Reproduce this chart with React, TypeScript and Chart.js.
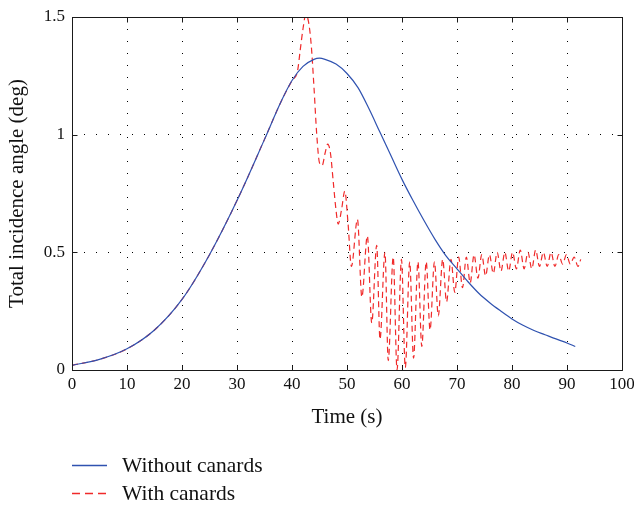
import React, { useEffect, useRef } from "react";
import { Chart, registerables } from "chart.js";

Chart.register(...registerables);

const blueTime = [0, 5, 10, 15, 20, 25, 30, 35, 38, 40, 42, 44, 45, 46, 48, 50, 52, 54, 56, 58, 60, 62, 64, 66, 68, 70, 72, 74, 76, 78, 80, 82, 84, 86, 88, 90, 91.5];
const blueValue = [0.02, 0.045, 0.09, 0.17, 0.3, 0.49, 0.72, 0.98, 1.14, 1.23, 1.29, 1.32, 1.325, 1.32, 1.3, 1.26, 1.2, 1.11, 1.01, 0.91, 0.81, 0.72, 0.635, 0.555, 0.485, 0.43, 0.375, 0.325, 0.285, 0.25, 0.217, 0.19, 0.168, 0.15, 0.132, 0.115, 0.1];

const redTime = [0, 5, 10, 15, 20, 25, 30, 35, 38, 40, 41, 41.5, 42, 42.5, 43, 43.5, 44, 44.5, 45, 45.5, 46, 46.5, 47, 47.5, 48, 48.4, 49, 49.6, 50.2, 50.8, 51.9, 52.7, 53.7, 54.5, 55.4, 56.0, 56.9, 57.5, 58.4, 59.1, 59.9, 60.6, 61.4, 62.1, 62.9, 63.6, 64.4, 65.1, 65.9, 66.6, 67.4, 68.1, 68.9, 69.6, 70.3, 71.0, 71.7, 72.4, 73.1, 73.8, 74.5, 75.2, 75.9, 76.6, 77.3, 78.0, 78.7, 79.4, 80.1, 80.8, 81.5, 82.2, 82.9, 83.6, 84.3, 85.0, 85.7, 86.4, 87.1, 87.8, 88.5, 89.2, 89.9, 90.6, 91.3, 92.0, 92.5];
const redValue = [0.02, 0.045, 0.09, 0.17, 0.3, 0.49, 0.72, 0.98, 1.14, 1.23, 1.27, 1.36, 1.45, 1.51, 1.48, 1.38, 1.2, 1.0, 0.88, 0.87, 0.92, 0.96, 0.92, 0.8, 0.68, 0.62, 0.68, 0.76, 0.62, 0.44, 0.64, 0.31, 0.57, 0.2, 0.53, 0.13, 0.5, 0.04, 0.48, 0.0, 0.47, 0.01, 0.46, 0.05, 0.46, 0.1, 0.46, 0.17, 0.46, 0.23, 0.47, 0.29, 0.47, 0.33, 0.48, 0.35, 0.48, 0.37, 0.49, 0.39, 0.49, 0.4, 0.49, 0.41, 0.5, 0.42, 0.5, 0.42, 0.5, 0.43, 0.51, 0.43, 0.5, 0.43, 0.51, 0.44, 0.5, 0.44, 0.5, 0.44, 0.49, 0.45, 0.49, 0.45, 0.48, 0.44, 0.47];

const xTicks = [0, 10, 20, 30, 40, 50, 60, 70, 80, 90, 100];
const yTicks = [0, 0.5, 1, 1.5];

const seriesNames = ["Without canards", "With canards"];
const BLUE = "#2f52b0";
const RED = "#f02a2a";
const FONT = "'Liberation Serif', 'DejaVu Serif', serif";

const framePlugin = {
  id: "frame",
  afterDraw(chart: any) {
    const { ctx, chartArea, scales } = chart;
    const { left, right, top, bottom } = chartArea;
    ctx.save();
    ctx.strokeStyle = "#1a1a1a";
    ctx.lineWidth = 1;
    ctx.beginPath();
    const L = Math.round(left) + 0.5, R = Math.round(right) + 0.5, T = Math.round(top) + 0.5, B = Math.round(bottom) + 0.5;
    ctx.rect(L, T, R - L, B - T);
    const tl = 5;
    scales.x.ticks.forEach((t: any) => {
      const px = Math.round(scales.x.getPixelForValue(t.value)) + 0.5;
      ctx.moveTo(px, B); ctx.lineTo(px, B - tl);
      ctx.moveTo(px, T); ctx.lineTo(px, T + tl);
    });
    scales.y.ticks.forEach((t: any) => {
      const py = Math.round(scales.y.getPixelForValue(t.value)) + 0.5;
      ctx.moveTo(L, py); ctx.lineTo(L + tl, py);
      ctx.moveTo(R, py); ctx.lineTo(R - tl, py);
    });
    ctx.stroke();
    ctx.restore();
  },
};

export default function App() {
  const ref = useRef<HTMLCanvasElement>(null);
  useEffect(() => {
    document.body.style.margin = "0";
    const blueData = blueTime.map((t, i) => ({ x: t, y: blueValue[i] }));
    const redData = redTime.map((t, i) => ({ x: t, y: redValue[i] }));
    const chart = new Chart(ref.current!, {
      type: "line",
      data: {
        datasets: [
          { label: seriesNames[0], data: blueData, borderColor: BLUE, borderWidth: 1.2, pointRadius: 0, cubicInterpolationMode: "monotone", fill: false },
          { label: seriesNames[1], data: redData, borderColor: RED, borderWidth: 1.2, borderDash: [6, 4], pointRadius: 0, cubicInterpolationMode: "monotone", fill: false },
        ],
      },
      options: {
        animation: false,
        responsive: false,
        maintainAspectRatio: false,
        layout: { padding: { left: 0, right: 12, top: 17, bottom: 77 } },
        plugins: { legend: { display: false }, tooltip: { enabled: false } },
        scales: {
          x: {
            type: "linear",
            min: 0,
            max: 100,
            afterBuildTicks: (s: any) => { s.ticks = xTicks.map((v) => ({ value: v })); },
            afterFit: (s: any) => { s.height = 60; s.paddingLeft = 0; s.paddingRight = 0; },
            ticks: { color: "#111", font: { family: FONT, size: 17 }, padding: 4, maxRotation: 0, callback: (v: any) => String(v) },
            grid: { color: "#000", lineWidth: 1, drawTicks: false, borderDash: [1, 11] },
            border: { display: false, dash: [1, 11] },
            title: { display: true, text: "Time (s)", color: "#111", font: { family: FONT, size: 21 }, padding: { top: 4, bottom: 0 } },
          },
          y: {
            type: "linear",
            min: 0,
            max: 1.5,
            afterBuildTicks: (s: any) => { s.ticks = yTicks.map((v) => ({ value: v })); },
            afterFit: (s: any) => { s.width = 72; s.paddingTop = 0; s.paddingBottom = 0; },
            ticks: { color: "#111", font: { family: FONT, size: 17 }, padding: 7, callback: (v: any) => String(v) },
            grid: { color: "#000", lineWidth: 1, drawTicks: false, borderDash: [1, 11] },
            border: { display: false, dash: [1, 11] },
            title: { display: true, text: "Total incidence angle (deg)", color: "#111", font: { family: FONT, size: 21 }, padding: { top: 5, bottom: 2 } },
          },
        },
      },
      plugins: [framePlugin],
    } as any);
    return () => chart.destroy();
  }, []);

  const legendText: React.CSSProperties = { position: "absolute", left: 122, fontFamily: FONT, fontSize: 21.5, color: "#111", lineHeight: "26px", whiteSpace: "nowrap" };
  return (
    <div style={{ position: "relative", width: 634, height: 507, background: "#fff" }}>
      <canvas ref={ref} width={634} height={507} style={{ display: "block", width: 634, height: 507 }} />
      <svg width={634} height={507} style={{ position: "absolute", left: 0, top: 0, pointerEvents: "none" }}>
        <line x1={72} y1={465.5} x2={107} y2={465.5} stroke={BLUE} strokeWidth={1.3} />
        <line x1={72} y1={493.5} x2={107} y2={493.5} stroke={RED} strokeWidth={1.3} strokeDasharray="8,5" />
      </svg>
      <div style={{ ...legendText, top: 452 }}>{seriesNames[0]}</div>
      <div style={{ ...legendText, top: 480 }}>{seriesNames[1]}</div>
    </div>
  );
}
